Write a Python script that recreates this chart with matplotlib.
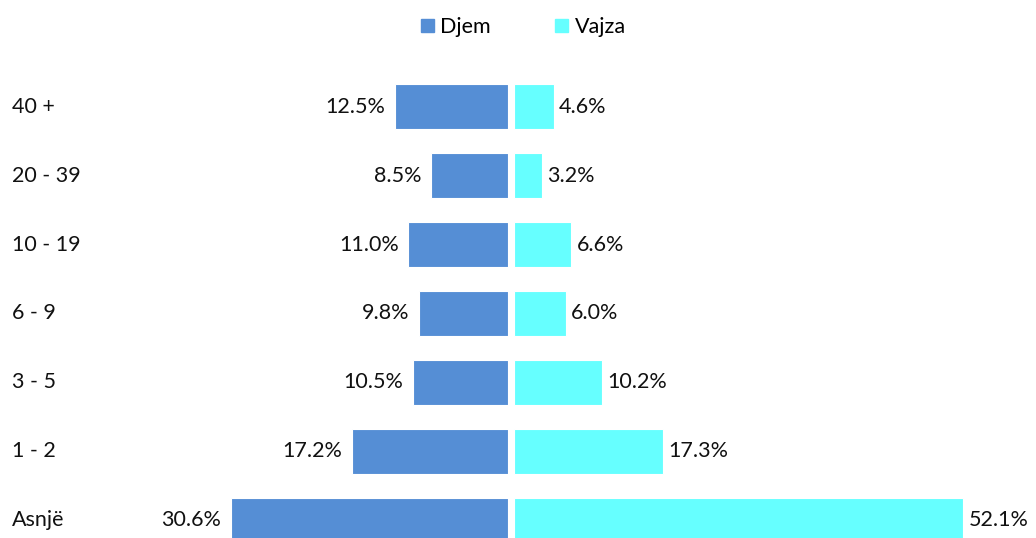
import matplotlib.pyplot as plt
from matplotlib.patches import Patch

plt.rcParams['font.family'] = ['Lato', 'DejaVu Sans']

# të dhënat (nga poshtë lart)
kategorite = ['Asnjë', '1 - 2', '3 - 5', '6 - 9', '10 - 19', '20 - 39', '40 +']
djem = [30.6, 17.2, 10.5, 9.8, 11.0, 8.5, 12.5]
vajza = [52.1, 17.3, 10.2, 6.0, 6.6, 3.2, 4.6]

ngjyra_djem = '#558ED5'
ngjyra_vajza = '#66FFFF'
fs = 15.5

W, H = 1036, 538
fig = plt.figure(figsize=(W / 100, H / 100), dpi=100)

top_px = 60
ax_h = (H - top_px) / H
ax_l = fig.add_axes([0, 0, 508 / W, ax_h])
ax_r = fig.add_axes([514 / W, 0, 522 / W, ax_h])

y = list(range(len(kategorite)))

ax_l.barh(y, djem, height=0.65, color=ngjyra_djem, edgecolor='white', linewidth=0.8)
ax_r.barh(y, vajza, height=0.65, color=ngjyra_vajza, edgecolor='white', linewidth=0.8)

ax_l.set_xlim(56.1, 0)
ax_r.set_xlim(0, 60.6)
for ax in (ax_l, ax_r):
    ax.set_ylim(-0.26, 6.68)
    ax.axis('off')

for yi, v in zip(y, djem):
    ax_l.annotate(f'{v:.1f}%', (v, yi), xytext=(-7, 0), textcoords='offset points',
                  ha='right', va='center', fontsize=fs, color='#111111')
for yi, v in zip(y, vajza):
    ax_r.annotate(f'{v:.1f}%', (v, yi), xytext=(4, 0), textcoords='offset points',
                  ha='left', va='center', fontsize=fs, color='#111111')

# etiketat e kategorive
for yi, k in zip(y, kategorite):
    ax_l.annotate(k, (0, yi), xycoords=('figure pixels', 'data'), xytext=(12, 0),
                  textcoords='offset pixels', ha='left', va='center', fontsize=fs,
                  color='#111111')

handles = [Patch(color=ngjyra_djem), Patch(color=ngjyra_vajza)]
fig.legend(handles, ['Djem', 'Vajza'], loc='center', bbox_to_anchor=(0.505, 1 - 27 / H),
           ncol=2, frameon=False, fontsize=fs, handlelength=0.6, handleheight=0.6,
           handletextpad=0.3, columnspacing=3.0)

fig.savefig('out.png', dpi=100)
